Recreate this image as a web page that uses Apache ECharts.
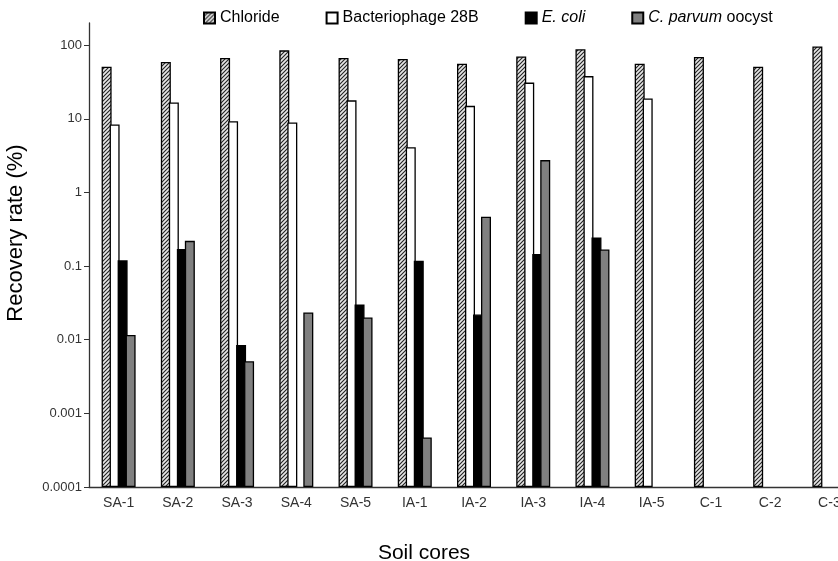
<html>
<head>
    <meta charset="utf-8">
    <script src="https://cdn.jsdelivr.net/npm/echarts@6/dist/echarts.min.js"></script>
    <style>
        html, body, #main {
            width: 100%;
            height: 100%;
            margin: 0;
            background: #fff;
        }
    </style>
</head>
<body>
<div id="main"></div>
<script>
    // values (recovery rate, %)
    var cores = ['SA-1', 'SA-2', 'SA-3', 'SA-4', 'SA-5', 'IA-1', 'IA-2', 'IA-3', 'IA-4', 'IA-5', 'C-1', 'C-2', 'C-3'];
    var chloride = [51, 59, 67, 85, 67, 65, 56, 70, 88, 56, 69, 51, 96];
    var phage = [8.4, 16.7, 9.3, 8.9, 17.8, 4.1, 15, 31, 38, 18.9, null, null, null];
    var ecoli = [0.12, 0.17, 0.0085, null, 0.03, 0.118, 0.022, 0.146, 0.245, null, null, null, null];
    var parvum = [0.0116, 0.22, 0.0051, 0.0235, 0.02, 0.00047, 0.467, 2.75, 0.168, null, null, null, null];
    var yTicks = [0.0001, 0.001, 0.01, 0.1, 1, 10, 100];
    var yTickLabels = ['0.0001', '0.001', '0.01', '0.1', '1', '10', '100'];

    var font = 'Liberation Sans';

    function hatch() {
        var c = document.createElement('canvas');
        c.width = 4;
        c.height = 4;
        var g = c.getContext('2d');
        g.fillStyle = '#e6e6e6';
        g.fillRect(0, 0, 4, 4);
        g.strokeStyle = '#222';
        g.lineWidth = 1.1;
        g.beginPath();
        g.moveTo(0, 4); g.lineTo(4, 0);
        g.moveTo(-1, 1); g.lineTo(1, -1);
        g.moveTo(3, 5); g.lineTo(5, 3);
        g.stroke();
        return c;
    }

    function tickLabel(v) {
        for (var i = 0; i < yTicks.length; i++) {
            if (Math.abs(Math.log10(v) - Math.log10(yTicks[i])) < 1e-6) return yTickLabels[i];
        }
        return '';
    }

    var legendText = {
        'Chloride': 'Chloride',
        'Bacteriophage 28B': 'Bacteriophage 28B',
        'E. coli': '{i|E. coli}',
        'C. parvum oocyst': '{i|C. parvum} oocyst'
    };

    function barSeries(name, data, color) {
        return {
            name: name,
            type: 'bar',
            data: data,
            barWidth: 10,
            barGap: '-20%',
            itemStyle: {color: color, borderColor: '#000', borderWidth: 1.3}
        };
    }

    var chart = echarts.init(document.getElementById('main'));

    chart.setOption({
        animation: false,
        textStyle: {fontFamily: font},
        legend: {
            left: 198,
            top: 5,
            itemWidth: 11,
            itemHeight: 11,
            itemGap: 46,
            icon: 'rect',
            textStyle: {
                fontFamily: font,
                fontSize: 16,
                color: '#000',
                rich: {i: {fontStyle: 'italic', fontSize: 16, fontFamily: font, color: '#000'}}
            },
            formatter: function (n) {
                return legendText[n];
            }
        },
        grid: {left: 89, width: 770, top: 23, bottom: 74, outerBoundsMode: 'none', containLabel: false},
        xAxis: {
            type: 'category',
            data: cores,
            name: 'Soil cores',
            nameLocation: 'middle',
            nameGap: 56,
            nameTextStyle: {fontFamily: font, fontSize: 21, color: '#000', padding: [0, 100, 0, 0]},
            axisLine: {lineStyle: {color: '#333', width: 1.3}},
            axisTick: {length: 5, lineStyle: {color: '#333'}},
            axisLabel: {fontFamily: font, fontSize: 14, color: '#333', margin: 9}
        },
        yAxis: {
            type: 'log',
            min: 0.0001,
            max: 200,
            startValue: 0.0001,
            name: 'Recovery rate (%)',
            nameLocation: 'middle',
            nameRotate: 90,
            nameGap: 62,
            nameTextStyle: {fontFamily: font, fontSize: 22, color: '#000', padding: [0, 0, 0, 44]},
            splitLine: {show: false},
            axisLine: {show: true, lineStyle: {color: '#333', width: 1.3}},
            axisTick: {show: true, length: 5, customValues: yTicks, lineStyle: {color: '#333'}},
            axisLabel: {
                fontFamily: font, fontSize: 13, color: '#333', margin: 7,
                customValues: yTicks,
                formatter: tickLabel
            }
        },
        series: [
            barSeries('Chloride', chloride, {image: hatch(), repeat: 'repeat'}),
            barSeries('Bacteriophage 28B', phage, '#fff'),
            barSeries('E. coli', ecoli, '#000'),
            barSeries('C. parvum oocyst', parvum, '#808080')
        ]
    });
</script>
</body>
</html>
